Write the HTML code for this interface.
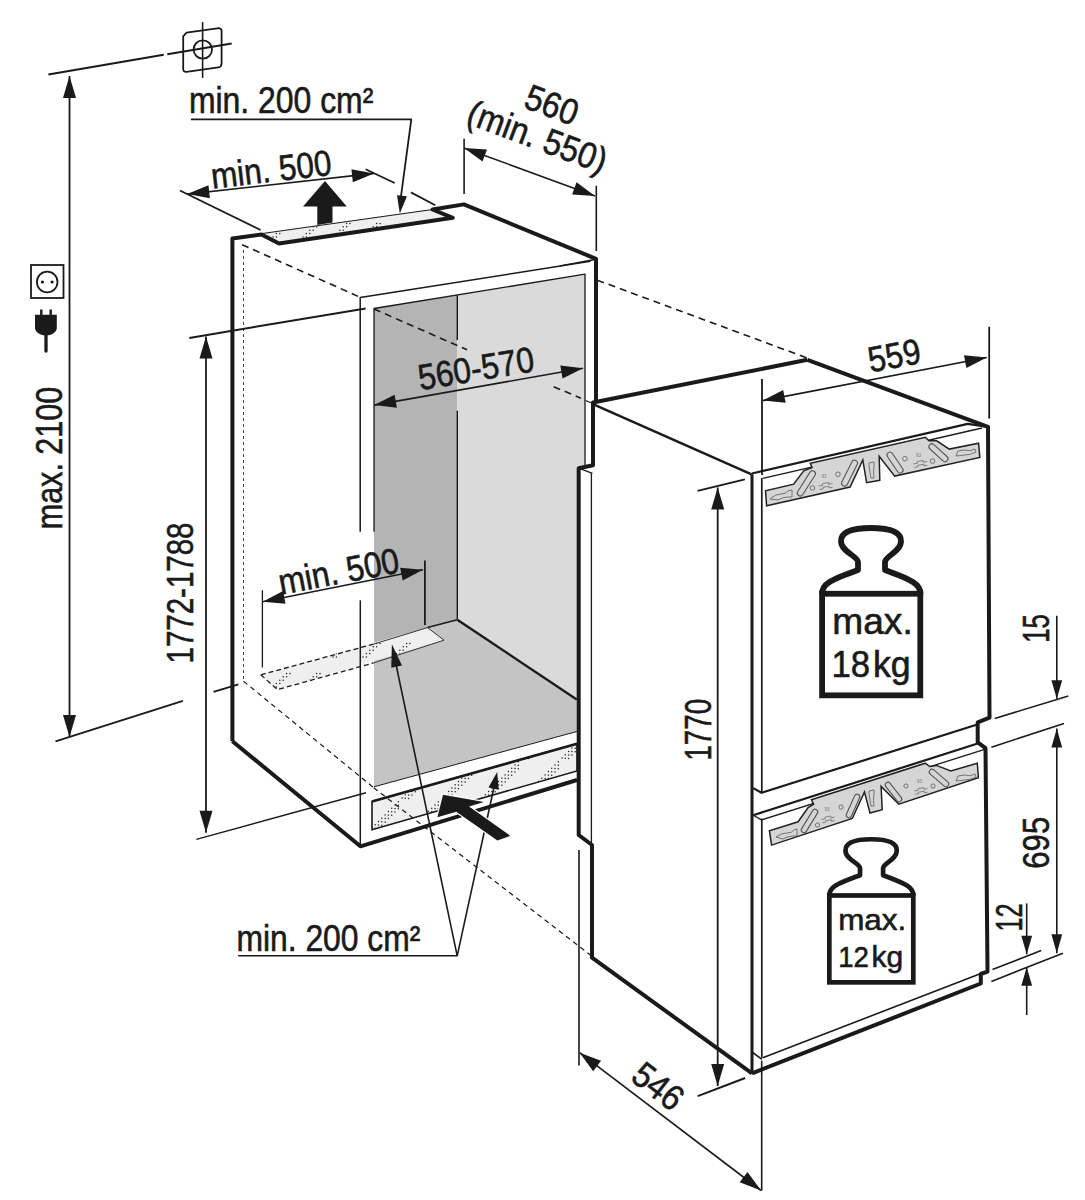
<!DOCTYPE html>
<html><head><meta charset="utf-8">
<style>
html,body{margin:0;padding:0;background:#fff;}
svg{display:block;} path{stroke-linejoin:round;}
text{font-family:"Liberation Sans",sans-serif;fill:#1a1a1a;stroke:#1a1a1a;stroke-width:0.6px;}
</style></head>
<body>
<svg width="1085" height="1200" viewBox="0 0 1085 1200">
<defs>
<pattern id="dots" width="30" height="30" patternUnits="userSpaceOnUse"><rect width="30" height="30" fill="#efefef"/><circle cx="3.0" cy="27.0" r="0.75" fill="#222"/><circle cx="6.4" cy="23.6" r="0.75" fill="#222"/><circle cx="9.8" cy="20.2" r="0.75" fill="#222"/><circle cx="13.2" cy="16.8" r="0.75" fill="#222"/><circle cx="16.6" cy="13.4" r="0.75" fill="#222"/><circle cx="6.4" cy="27.0" r="0.75" fill="#222"/><circle cx="9.8" cy="23.6" r="0.75" fill="#222"/><circle cx="13.2" cy="20.2" r="0.75" fill="#222"/><circle cx="16.6" cy="16.8" r="0.75" fill="#222"/><circle cx="20.0" cy="13.4" r="0.75" fill="#222"/></pattern>
<pattern id="grille" width="40" height="40" patternUnits="userSpaceOnUse"><rect width="40" height="40" fill="#efefef"/><circle cx="2.0" cy="38.0" r="0.75" fill="#222"/><circle cx="5.3" cy="34.7" r="0.75" fill="#222"/><circle cx="8.6" cy="31.4" r="0.75" fill="#222"/><circle cx="11.9" cy="28.1" r="0.75" fill="#222"/><circle cx="15.2" cy="24.8" r="0.75" fill="#222"/><circle cx="18.5" cy="21.5" r="0.75" fill="#222"/><circle cx="21.8" cy="18.2" r="0.75" fill="#222"/><circle cx="25.1" cy="14.9" r="0.75" fill="#222"/><circle cx="28.4" cy="11.6" r="0.75" fill="#222"/><circle cx="31.7" cy="8.3" r="0.75" fill="#222"/><circle cx="35.0" cy="5.0" r="0.75" fill="#222"/><circle cx="38.3" cy="1.7" r="0.75" fill="#222"/><circle cx="5.3" cy="38.2" r="0.75" fill="#222"/><circle cx="8.6" cy="34.9" r="0.75" fill="#222"/><circle cx="11.9" cy="31.6" r="0.75" fill="#222"/><circle cx="15.2" cy="28.3" r="0.75" fill="#222"/><circle cx="18.5" cy="25.0" r="0.75" fill="#222"/><circle cx="21.8" cy="21.7" r="0.75" fill="#222"/><circle cx="25.1" cy="18.4" r="0.75" fill="#222"/><circle cx="28.4" cy="15.1" r="0.75" fill="#222"/><circle cx="31.7" cy="11.8" r="0.75" fill="#222"/><circle cx="35.0" cy="8.5" r="0.75" fill="#222"/><circle cx="38.3" cy="5.2" r="0.75" fill="#222"/><circle cx="8.6" cy="38.4" r="0.75" fill="#222"/><circle cx="11.9" cy="35.1" r="0.75" fill="#222"/><circle cx="15.2" cy="31.8" r="0.75" fill="#222"/><circle cx="18.5" cy="28.5" r="0.75" fill="#222"/><circle cx="21.8" cy="25.2" r="0.75" fill="#222"/><circle cx="25.1" cy="21.9" r="0.75" fill="#222"/><circle cx="28.4" cy="18.6" r="0.75" fill="#222"/><circle cx="31.7" cy="15.3" r="0.75" fill="#222"/><circle cx="35.0" cy="12.0" r="0.75" fill="#222"/><circle cx="38.3" cy="8.7" r="0.75" fill="#222"/></pattern>
</defs>
<polygon points="374,308.5 457.3,295 457.3,619.8 374,645" fill="#b4b4b4" stroke="none" stroke-width="1"/>
<polygon points="457.3,295 585,274.2 585,468 578.7,468 578.7,699 457.3,619.8" fill="#dadada" stroke="none" stroke-width="1"/>
<polygon points="374,645 457.3,619.8 576.8,699.4 576.8,731.5 374,786.8" fill="#c4c4c4" stroke="none" stroke-width="1"/>
<polygon points="260.8,674.8 277.4,689.6 444,640.2 427.5,627.6" fill="url(#dots)" stroke="none" stroke-width="1"/>
<path d="M260.8,674.8 L277.4,689.6 L373.3,663 M260.8,674.8 L374,644" fill="none" stroke="#1a1a1a" stroke-width="1.3" stroke-dasharray="5,3"/>
<path d="M374,644 L427.5,627.6 L444,640.2 L373.3,663" fill="none" stroke="#333" stroke-width="1.0" />
<line x1="457.3" y1="619.8" x2="576.8" y2="699.4" stroke="#1a1a1a" stroke-width="2.4"/>
<line x1="427.5" y1="627.6" x2="457.3" y2="619.8" stroke="#1a1a1a" stroke-width="1.6"/>
<line x1="374" y1="786.8" x2="576.8" y2="731.5" stroke="#1a1a1a" stroke-width="1.0"/>
<path d="M374,531.7 L374,308.5 L585,274.2 L585,468" fill="none" stroke="#1a1a1a" stroke-width="1.3" />
<line x1="457.3" y1="295.3" x2="457.3" y2="340" stroke="#1a1a1a" stroke-width="1.4"/>
<line x1="457.3" y1="410.7" x2="457.3" y2="619" stroke="#1a1a1a" stroke-width="1.4"/>
<path d="M360.2,531.7 L360.2,297.5 L590.5,261.3" fill="none" stroke="#1a1a1a" stroke-width="1.5" />
<line x1="360.3" y1="600.3" x2="360.3" y2="846.5" stroke="#1a1a1a" stroke-width="1.5"/>
<polygon points="372,801.5 372,829.7 577,771 577,743.7" fill="url(#grille)" stroke="#1a1a1a" stroke-width="1.6"/>
<line x1="372" y1="801.5" x2="577" y2="743.7" stroke="#1a1a1a" stroke-width="2.6"/>
<polygon points="262.4,233.5 279,243.6 452.8,217.8 432.5,209.5" fill="url(#dots)" stroke="none" stroke-width="1"/>
<line x1="262.4" y1="233.5" x2="432.5" y2="209.5" stroke="#1a1a1a" stroke-width="1.2"/>
<path d="M232.4,741.2 L232.4,238.6 L261.5,234.4 L279,243.6 L452.8,217.8 L432.5,209.5 L463.9,204.4 L596,258.8 L596,401" fill="none" stroke="#1a1a1a" stroke-width="4.0" />
<path d="M807.4,359.8 L593,402.5 L593,465.2 L578.7,468.2 L578.7,835 L592,845 L592,957.7 L752,1073.4" fill="none" stroke="#1a1a1a" stroke-width="4.0" />
<path d="M232.4,741.2 L360.4,846.3 L577,780" fill="none" stroke="#1a1a1a" stroke-width="4.0" />
<line x1="560" y1="265.8" x2="595" y2="259.5" stroke="#1a1a1a" stroke-width="1.3"/>
<line x1="242.1" y1="244.7" x2="358.2" y2="296.4" stroke="#1a1a1a" stroke-width="1.6" stroke-dasharray="7,5"/>
<line x1="374" y1="309" x2="467" y2="349.8" stroke="#1a1a1a" stroke-width="1.6" stroke-dasharray="7,5"/>
<line x1="553.6" y1="386.7" x2="581" y2="398.2" stroke="#1a1a1a" stroke-width="1.6" stroke-dasharray="7,5"/>
<line x1="585.3" y1="400.5" x2="592" y2="403" stroke="#1a1a1a" stroke-width="1.3"/>
<line x1="597.3" y1="280.2" x2="807.4" y2="358.1" stroke="#1a1a1a" stroke-width="1.6" stroke-dasharray="7,5"/>
<line x1="243.5" y1="250" x2="243.5" y2="681.4" stroke="#444" stroke-width="1.0" stroke-dasharray="3,3"/>
<line x1="243.5" y1="681.2" x2="373.7" y2="787.7" stroke="#1a1a1a" stroke-width="1.2" stroke-dasharray="5,4"/>
<line x1="373.7" y1="787.7" x2="591.7" y2="956" stroke="#1a1a1a" stroke-width="1.2" stroke-dasharray="5,4"/>
<path d="M807.4,359.8 L988,426.8 L989.5,717.6 L977.7,722.3 L977.7,742.3 L985.5,748.2 L987.5,971.6 L980.8,974 L980.8,983.5 L752,1073.4" fill="none" stroke="#1a1a1a" stroke-width="4.0" />
<line x1="593.5" y1="404.3" x2="751.6" y2="474.3" stroke="#1a1a1a" stroke-width="2.4"/>
<line x1="752" y1="474.3" x2="752" y2="1073.3" stroke="#1a1a1a" stroke-width="3.0"/>
<line x1="591.4" y1="473" x2="591.4" y2="843" stroke="#1a1a1a" stroke-width="1.3"/>
<line x1="578.7" y1="468.2" x2="592.4" y2="473.3" stroke="#1a1a1a" stroke-width="1.3"/>
<path d="M752,473.5 L967.7,423.9 L988,426.8" fill="none" stroke="#1a1a1a" stroke-width="2.2" />
<path d="M762.8,478.3 L982,428" fill="none" stroke="#1a1a1a" stroke-width="1.3" />
<line x1="761.8" y1="478" x2="761.8" y2="792.6" stroke="#1a1a1a" stroke-width="1.7"/>
<path d="M753.2,788.1 L761.5,792.8 L976.5,724.7" fill="none" stroke="#1a1a1a" stroke-width="2.2" />
<path d="M753.2,815.2 L977.7,743.5" fill="none" stroke="#1a1a1a" stroke-width="2.2" />
<path d="M753.2,815.2 L761.5,819.9 L984.7,749.4" fill="none" stroke="#1a1a1a" stroke-width="1.3" />
<line x1="761.8" y1="818.6" x2="761.8" y2="1057.8" stroke="#1a1a1a" stroke-width="1.7"/>
<line x1="762.8" y1="1057.8" x2="979.6" y2="974" stroke="#1a1a1a" stroke-width="1.6"/>
<line x1="752" y1="1052" x2="762" y2="1059.4" stroke="#1a1a1a" stroke-width="1.6"/>
<line x1="48.4" y1="74.6" x2="163.7" y2="54.7" stroke="#1a1a1a" stroke-width="2"/>
<line x1="167.3" y1="54.2" x2="231.7" y2="43.4" stroke="#1a1a1a" stroke-width="2"/>
<line x1="69.5" y1="76" x2="69.5" y2="737" stroke="#1a1a1a" stroke-width="1.8"/>
<polygon points="69.5,76 63.0,98.0 76.0,98.0" fill="#1a1a1a" stroke="none" stroke-width="1"/>
<polygon points="69.5,737 76.0,715.0 63.0,715.0" fill="#1a1a1a" stroke="none" stroke-width="1"/>
<line x1="55.5" y1="741.4" x2="182.9" y2="700.9" stroke="#1a1a1a" stroke-width="2"/>
<line x1="206" y1="336.5" x2="206" y2="832.8" stroke="#1a1a1a" stroke-width="1.8"/>
<polygon points="206,336.5 199.5,358.5 212.5,358.5" fill="#1a1a1a" stroke="none" stroke-width="1"/>
<polygon points="206,832.8 212.5,810.8 199.5,810.8" fill="#1a1a1a" stroke="none" stroke-width="1"/>
<line x1="189.3" y1="337.9" x2="365.6" y2="308.5" stroke="#1a1a1a" stroke-width="2"/>
<line x1="213.5" y1="691.9" x2="238.4" y2="684.4" stroke="#1a1a1a" stroke-width="1.8"/>
<line x1="196.4" y1="839.4" x2="366" y2="792.8" stroke="#1a1a1a" stroke-width="1.5"/>
<line x1="187.3" y1="194.1" x2="374" y2="173.4" stroke="#1a1a1a" stroke-width="1.6"/>
<polygon points="187.3,194.1 209.88229860355696,198.1360611714628 208.44972713189483,185.21523538598842" fill="#1a1a1a" stroke="none" stroke-width="1"/>
<polygon points="374,173.4 351.417701396443,169.3639388285372 352.8502728681052,182.28476461401158" fill="#1a1a1a" stroke="none" stroke-width="1"/>
<line x1="179.9" y1="190.5" x2="260.6" y2="230" stroke="#1a1a1a" stroke-width="1.8"/>
<line x1="365.6" y1="169.2" x2="394.7" y2="183" stroke="#1a1a1a" stroke-width="1.8"/>
<line x1="410.9" y1="192.4" x2="435.3" y2="205.3" stroke="#1a1a1a" stroke-width="1.8"/>
<path d="M190.9,119.4 L411.3,119.4 L400.5,200" fill="none" stroke="#1a1a1a" stroke-width="1.8" />
<polygon points="399.8,213.6 406.94441008460274,196.33855728674376 397.0181058077653,195.1267473166415" fill="#1a1a1a" stroke="none" stroke-width="1"/>
<polygon points="317.3,225 317.3,206.6 303,206.6 325,181 346.8,206.6 332.5,206.6 332.5,222.5" fill="#1a1a1a" stroke="none" stroke-width="1"/>
<line x1="464.1" y1="138.8" x2="464.1" y2="194" stroke="#1a1a1a" stroke-width="1.6"/>
<line x1="596.3" y1="185.8" x2="596.3" y2="251" stroke="#1a1a1a" stroke-width="1.6"/>
<line x1="464.1" y1="147.9" x2="595" y2="196" stroke="#1a1a1a" stroke-width="1.6"/>
<polygon points="464.1,147.9 482.5081050086178,161.58910771349622 486.99190535604146,149.3868319239378" fill="#1a1a1a" stroke="none" stroke-width="1"/>
<polygon points="595,196 576.5918949913822,182.3108922865038 572.1080946439585,194.51316807606221" fill="#1a1a1a" stroke="none" stroke-width="1"/>
<line x1="762" y1="379" x2="762" y2="475" stroke="#1a1a1a" stroke-width="1.8"/>
<line x1="989.2" y1="326.8" x2="989.2" y2="418.6" stroke="#1a1a1a" stroke-width="1.8"/>
<line x1="762.8" y1="400.6" x2="986.8" y2="357.5" stroke="#1a1a1a" stroke-width="1.6"/>
<polygon points="762.8,400.6 785.6318711621188,402.82613100162706 783.1755867977793,390.060291149839" fill="#1a1a1a" stroke="none" stroke-width="1"/>
<polygon points="986.8,357.5 963.9681288378811,355.27386899837296 966.4244132022206,368.03970885016105" fill="#1a1a1a" stroke="none" stroke-width="1"/>
<line x1="374.1" y1="405.1" x2="583.1" y2="368.2" stroke="#1a1a1a" stroke-width="1.6"/>
<polygon points="374.1,405.1 396.8950539709684,407.67594923487263 394.63479633795504,394.8739480072362" fill="#1a1a1a" stroke="none" stroke-width="1"/>
<polygon points="583.1,368.2 560.3049460290317,365.6240507651274 562.565203662045,378.4260519927638" fill="#1a1a1a" stroke="none" stroke-width="1"/>
<line x1="262.4" y1="590.2" x2="262.4" y2="667.5" stroke="#1a1a1a" stroke-width="1.3"/>
<line x1="424.9" y1="560.5" x2="424.9" y2="625" stroke="#1a1a1a" stroke-width="1.8"/>
<line x1="262.7" y1="601.8" x2="423" y2="569.8" stroke="#1a1a1a" stroke-width="1.6"/>
<polygon points="262.7,601.8 285.546787092962,603.8674427510487 283.0018657009328,591.1189771528525" fill="#1a1a1a" stroke="none" stroke-width="1"/>
<polygon points="423,569.8 400.153212907038,567.7325572489513 402.6981342990672,580.4810228471474" fill="#1a1a1a" stroke="none" stroke-width="1"/>
<path d="M238.2,955.8 L457.2,955.8 L395.5,662" fill="none" stroke="#1a1a1a" stroke-width="1.6" />
<polygon points="391.9,644.2 391.2344195638743,667.8390990243505 402.00055218711304,665.5829101273752" fill="#1a1a1a" stroke="none" stroke-width="1"/>
<path d="M457.2,955.8 L494.5,785" fill="none" stroke="#1a1a1a" stroke-width="1.6" />
<polygon points="497.2,772 488.50387658645417,787.5054002714015 498.66601151300887,789.7169639115658" fill="#1a1a1a" stroke="none" stroke-width="1"/>
<polygon points="437.4,817.3 443,794.7 484,802.1 469,806.5 510.3,835.8 497.4,840.4 456.3,811.8" fill="#1a1a1a" stroke="#fff" stroke-width="2.5"/>
<polygon points="437.4,817.3 443,794.7 484,802.1 469,806.5 510.3,835.8 497.4,840.4 456.3,811.8" fill="#1a1a1a" stroke="none" stroke-width="1"/>
<line x1="717.7" y1="487.5" x2="717.7" y2="1086" stroke="#1a1a1a" stroke-width="1.8"/>
<polygon points="717.7,487.5 711.2,509.5 724.2,509.5" fill="#1a1a1a" stroke="none" stroke-width="1"/>
<polygon points="717.7,1086 724.2,1064.0 711.2,1064.0" fill="#1a1a1a" stroke="none" stroke-width="1"/>
<line x1="697.5" y1="490.9" x2="744.9" y2="479.4" stroke="#1a1a1a" stroke-width="2"/>
<line x1="697.7" y1="1096.1" x2="745.2" y2="1078" stroke="#1a1a1a" stroke-width="2"/>
<line x1="1056.8" y1="615.7" x2="1056.8" y2="698.7" stroke="#1a1a1a" stroke-width="1.6"/>
<polygon points="1056.8,698.7 1062.2,680.2 1051.3999999999999,680.2" fill="#1a1a1a" stroke="none" stroke-width="1"/>
<line x1="994.7" y1="718.6" x2="1068.3" y2="695.9" stroke="#1a1a1a" stroke-width="1.6"/>
<line x1="991.4" y1="747.2" x2="1064" y2="723.4" stroke="#1a1a1a" stroke-width="1.6"/>
<line x1="1056.8" y1="728.4" x2="1056.8" y2="953.2" stroke="#1a1a1a" stroke-width="1.6"/>
<polygon points="1056.8,728.4 1051.3999999999999,747.4 1062.2,747.4" fill="#1a1a1a" stroke="none" stroke-width="1"/>
<polygon points="1056.8,953.2 1062.2,934.2 1051.3999999999999,934.2" fill="#1a1a1a" stroke="none" stroke-width="1"/>
<line x1="1026.7" y1="903.4" x2="1026.7" y2="954.3" stroke="#1a1a1a" stroke-width="1.6"/>
<polygon points="1026.7,954.3 1032.1000000000001,935.8 1021.3000000000001,935.8" fill="#1a1a1a" stroke="none" stroke-width="1"/>
<line x1="1026.7" y1="967.3" x2="1026.7" y2="1015" stroke="#1a1a1a" stroke-width="1.6"/>
<polygon points="1026.7,967.3 1021.3000000000001,985.8 1032.1000000000001,985.8" fill="#1a1a1a" stroke="none" stroke-width="1"/>
<line x1="992.5" y1="969.5" x2="1041.2" y2="950.6" stroke="#1a1a1a" stroke-width="1.6"/>
<line x1="991.4" y1="981.4" x2="1062.9" y2="953.2" stroke="#1a1a1a" stroke-width="1.6"/>
<line x1="579" y1="850" x2="579" y2="1065.4" stroke="#1a1a1a" stroke-width="1.6"/>
<line x1="761.7" y1="1060.7" x2="761.7" y2="1190.5" stroke="#1a1a1a" stroke-width="1.6"/>
<line x1="579.6" y1="1052.7" x2="761.1" y2="1190.5" stroke="#1a1a1a" stroke-width="1.6"/>
<polygon points="579.6,1052.7 593.1915677220521,1071.1802404436974 601.0525868087676,1060.8262856959552" fill="#1a1a1a" stroke="none" stroke-width="1"/>
<polygon points="761.1,1190.5 747.5084322779479,1172.0197595563027 739.6474131912324,1182.3737143040448" fill="#1a1a1a" stroke="none" stroke-width="1"/>
<path d="M186.5,32.7 L219,28.2 Q221.6,28.5 221.6,31.1 L221.6,63.4 Q221.6,66.8 218.4,67.3 L186.5,71.8 Q183.2,72 183.2,69.2 L183.2,36.3 Z" fill="none" stroke="#1a1a1a" stroke-width="1.8" />
<circle cx="202.8" cy="49.5" r="9.2" fill="none" stroke="#1a1a1a" stroke-width="1.8"/>
<line x1="202.6" y1="22.1" x2="202.6" y2="77.9" stroke="#1a1a1a" stroke-width="1.6"/>
<rect x="31" y="265" width="32.5" height="33" fill="none" stroke="#1a1a1a" stroke-width="1.8"/>
<circle cx="47.2" cy="282" r="10.3" fill="none" stroke="#1a1a1a" stroke-width="1.8"/>
<circle cx="42.4" cy="282" r="1.6" fill="#1a1a1a"/><circle cx="52.1" cy="282" r="1.6" fill="#1a1a1a"/>
<path d="M35,314.7 L56.8,314.7 L56.8,328 C56.8,332 51.5,335.5 46,335.5 C40.5,335.5 35,332 35,328 Z" fill="#1a1a1a" stroke="#1a1a1a" stroke-width="0" />
<line x1="41.3" y1="309.5" x2="41.3" y2="315" stroke="#1a1a1a" stroke-width="2.4"/>
<line x1="50.7" y1="309.5" x2="50.7" y2="315" stroke="#1a1a1a" stroke-width="2.4"/>
<line x1="46" y1="334" x2="46" y2="351" stroke="#1a1a1a" stroke-width="3.3" stroke-linecap="round"/>
<polygon points="766.6,505.8 765.5,490.8 793.7,484.2 803.7,470.9 812,467.6 810.3,463.2 925.3,437.2 928.9,440.8 936.7,440.8 949.3,449.1 978.6,443.2 979.8,457.5 894.7,476.1 879.2,456.3 879.8,480.3 866.6,482.7 862.8,459.9 850.1,487" fill="#d5d5d5" stroke="#222" stroke-width="1.5"/>
<path d="M812.5,473.7 L800.3,493" fill="none" stroke="#555" stroke-width="7" stroke-linecap="round"/>
<path d="M812.5,473.7 L800.3,493" fill="none" stroke="#d5d5d5" stroke-width="4.8" stroke-linecap="round"/>
<path d="M854.5,463.2 L844.6,483.1" fill="none" stroke="#555" stroke-width="7" stroke-linecap="round"/>
<path d="M854.5,463.2 L844.6,483.1" fill="none" stroke="#d5d5d5" stroke-width="4.8" stroke-linecap="round"/>
<path d="M890,455.1 L900.1,470.1" fill="none" stroke="#555" stroke-width="7" stroke-linecap="round"/>
<path d="M890,455.1 L900.1,470.1" fill="none" stroke="#d5d5d5" stroke-width="4.8" stroke-linecap="round"/>
<path d="M931.9,446.8 L945,458.7" fill="none" stroke="#555" stroke-width="7" stroke-linecap="round"/>
<path d="M931.9,446.8 L945,458.7" fill="none" stroke="#d5d5d5" stroke-width="4.8" stroke-linecap="round"/>
<circle cx="838" cy="474.2" r="2.3" fill="none" stroke="#666" stroke-width="0.9"/>
<circle cx="812.5" cy="488" r="2.3" fill="none" stroke="#666" stroke-width="0.9"/>
<circle cx="904.9" cy="458.7" r="2.3" fill="none" stroke="#666" stroke-width="0.9"/>
<circle cx="932.5" cy="461.1" r="2.3" fill="none" stroke="#666" stroke-width="0.9"/>
<path d="M770,499 Q775,494 781,494 Q786,494 788,491 L792,490 L792,497 L788,497 Q783,497 778,500 Z" fill="none" stroke="#666" stroke-width="0.9" />
<path d="M956,456 L958,451 L965,450 Q970,452 975,449 L976,452 Q970,455 965,455 Z" fill="none" stroke="#666" stroke-width="0.9" />
<path d="M869,463 L874,462 L874,466 Q873,472 874,478 L871,478 Q870,472 869,466 Z" fill="none" stroke="#666" stroke-width="0.9" />
<polygon points="771.6,845.1 769.4,830.7 798.1,821.8 808.1,807.5 813.6,804.1 811.4,799.7 925.3,763.2 929.7,766.5 936.4,765.4 950.8,771 977.3,763.2 978.4,777.6 898.8,804.1 881.1,786.5 882.2,809.7 870,813 864.5,792 852.3,818.5" fill="#d5d5d5" stroke="#222" stroke-width="1.5"/>
<path d="M815,812 L804,830" fill="none" stroke="#555" stroke-width="6.5" stroke-linecap="round"/>
<path d="M815,812 L804,830" fill="none" stroke="#d5d5d5" stroke-width="4.3" stroke-linecap="round"/>
<path d="M857,797 L849,815" fill="none" stroke="#555" stroke-width="6.5" stroke-linecap="round"/>
<path d="M857,797 L849,815" fill="none" stroke="#d5d5d5" stroke-width="4.3" stroke-linecap="round"/>
<path d="M888,785 L899,799" fill="none" stroke="#555" stroke-width="6.5" stroke-linecap="round"/>
<path d="M888,785 L899,799" fill="none" stroke="#d5d5d5" stroke-width="4.3" stroke-linecap="round"/>
<path d="M932,772 L946,784" fill="none" stroke="#555" stroke-width="6.5" stroke-linecap="round"/>
<path d="M932,772 L946,784" fill="none" stroke="#d5d5d5" stroke-width="4.3" stroke-linecap="round"/>
<circle cx="817.5" cy="825" r="2.1" fill="none" stroke="#666" stroke-width="0.9"/>
<circle cx="841" cy="807" r="2.1" fill="none" stroke="#666" stroke-width="0.9"/>
<circle cx="906" cy="786" r="2.1" fill="none" stroke="#666" stroke-width="0.9"/>
<circle cx="933" cy="786" r="2.1" fill="none" stroke="#666" stroke-width="0.9"/>
<path d="M776,837 Q781,833 787,833 Q792,833 794,830 L797,829 L797,836 L793,836 Q788,836 783,839 Z" fill="none" stroke="#666" stroke-width="0.9" />
<path d="M956,781 L958,776 L965,775 Q970,777 975,774 L976,777 Q970,780 965,780 Z" fill="none" stroke="#666" stroke-width="0.9" />
<path d="M869,791 L874,790 L874,794 Q873,800 874,806 L871,806 Q870,800 869,794 Z" fill="none" stroke="#666" stroke-width="0.9" />
<path d="M818.6,486.0 L822.6,485.3 L822.6,483.5 L828.6,482.5 L828.6,484.3 L832.6,483.5 M819.6,489.5 L823.1,488.8 L823.1,487.3 L829.1,486.3 L829.1,487.9 L832.6,487.3" fill="none" stroke="#777" stroke-width="0.9" />
<text x="821.5" y="478" font-size="5.0" style="fill:#777;stroke:none" textLength="5.0" lengthAdjust="spacingAndGlyphs">93</text>
<path d="M913.3,464.0 L917.3,463.3 L917.3,461.5 L923.3,460.5 L923.3,462.3 L927.3,461.5 M914.3,467.5 L917.8,466.8 L917.8,465.3 L923.8,464.3 L923.8,465.9 L927.3,465.3" fill="none" stroke="#777" stroke-width="0.9" />
<text x="916" y="456.5" font-size="5.0" style="fill:#777;stroke:none" textLength="5.0" lengthAdjust="spacingAndGlyphs">93</text>
<path d="M821.4,819.425 L825.1999999999999,818.76 L825.1999999999999,817.05 L830.9,816.1 L830.9,817.81 L834.6999999999999,817.05 M822.35,822.75 L825.675,822.085 L825.675,820.66 L831.375,819.71 L831.375,821.23 L834.6999999999999,820.66" fill="none" stroke="#777" stroke-width="0.9" />
<text x="824.5" y="811" font-size="5.0" style="fill:#777;stroke:none" textLength="5.0" lengthAdjust="spacingAndGlyphs">93</text>
<path d="M914.3,790.925 L918.0999999999999,790.26 L918.0999999999999,788.55 L923.8,787.6 L923.8,789.31 L927.5999999999999,788.55 M915.25,794.25 L918.5749999999999,793.585 L918.5749999999999,792.16 L924.275,791.21 L924.275,792.73 L927.5999999999999,792.16" fill="none" stroke="#777" stroke-width="0.9" />
<text x="917" y="783" font-size="5.0" style="fill:#777;stroke:none" textLength="5.0" lengthAdjust="spacingAndGlyphs">93</text>
<g><path d="M822,594 C822,584 830,580 858,570 L858,562 C858,556 841,552 841,541 C841,532 853,528 871,528 C889,528 901,532 901,541 C901,552 885,556 885,562 L885,570 C912,580 920.5,584 920.5,594" fill="none" stroke="#1a1a1a" stroke-width="5.8"/><rect x="822.1" y="593.75" width="98.2" height="101.6" fill="none" stroke="#1a1a1a" stroke-width="5.8"/></g>
<g transform="translate(871.35,836.7) scale(0.855) translate(-871.25,-525)"><path d="M822,594 C822,584 830,580 858,570 L858,562 C858,556 841,552 841,541 C841,532 853,528 871,528 C889,528 901,532 901,541 C901,552 885,556 885,562 L885,570 C912,580 920.5,584 920.5,594" fill="none" stroke="#1a1a1a" stroke-width="5.5"/><rect x="822.1" y="593.75" width="98.2" height="101.6" fill="none" stroke="#1a1a1a" stroke-width="5.5"/></g>
<text transform="translate(832.3,633.7) rotate(0)" font-size="36" text-anchor="start" textLength="80.4" lengthAdjust="spacingAndGlyphs" >max.</text>
<text transform="translate(831.4,677.2) rotate(0)" font-size="36" text-anchor="start" textLength="38.6" lengthAdjust="spacingAndGlyphs" >18</text>
<text transform="translate(873,677.2) rotate(0)" font-size="36" text-anchor="start" textLength="37.7" lengthAdjust="spacingAndGlyphs" >kg</text>
<text transform="translate(838.2,929.7) rotate(0)" font-size="30" text-anchor="start" textLength="68" lengthAdjust="spacingAndGlyphs" >max.</text>
<text transform="translate(838.2,966.7) rotate(0)" font-size="30" text-anchor="start" textLength="30.7" lengthAdjust="spacingAndGlyphs" >12</text>
<text transform="translate(871.6,966.7) rotate(0)" font-size="30" text-anchor="start" textLength="31.7" lengthAdjust="spacingAndGlyphs" >kg</text>
<text transform="translate(188.9,113.4) rotate(0)" font-size="36" text-anchor="start" textLength="184.4" lengthAdjust="spacingAndGlyphs" >min. 200 cm²</text>
<text transform="translate(236.4,950.8) rotate(0)" font-size="36" text-anchor="start" textLength="184" lengthAdjust="spacingAndGlyphs" >min. 200 cm²</text>
<text transform="translate(272.5,181.7) rotate(-6.6)" font-size="36" text-anchor="middle" textLength="121" lengthAdjust="spacingAndGlyphs" >min. 500</text>
<text transform="translate(341,583.5) rotate(-10.7)" font-size="36" text-anchor="middle" textLength="122" lengthAdjust="spacingAndGlyphs" >min. 500</text>
<text transform="translate(547.5,116.5) rotate(20.4)" font-size="36" text-anchor="middle" textLength="54" lengthAdjust="spacingAndGlyphs" >560</text>
<text transform="translate(533.1,148.2) rotate(20.4)" font-size="36" text-anchor="middle" textLength="146" lengthAdjust="spacingAndGlyphs" >(min. 550)</text>
<text transform="translate(896.5,367.7) rotate(-10.5)" font-size="36" text-anchor="middle" textLength="52.7" lengthAdjust="spacingAndGlyphs" >559</text>
<text transform="translate(478,380.7) rotate(-9.3)" font-size="36" text-anchor="middle" textLength="117" lengthAdjust="spacingAndGlyphs" >560-570</text>
<text transform="translate(62.3,458) rotate(-90)" font-size="37" text-anchor="middle" textLength="142.6" lengthAdjust="spacingAndGlyphs" >max. 2100</text>
<text transform="translate(193.4,593) rotate(-90)" font-size="36" text-anchor="middle" textLength="141" lengthAdjust="spacingAndGlyphs" >1772-1788</text>
<text transform="translate(710.7,729.7) rotate(-90)" font-size="36" text-anchor="middle" textLength="62" lengthAdjust="spacingAndGlyphs" >1770</text>
<text transform="translate(1048.8,628.5) rotate(-90)" font-size="36" text-anchor="middle" textLength="28.6" lengthAdjust="spacingAndGlyphs" >15</text>
<text transform="translate(1049,842.75) rotate(-90)" font-size="36" text-anchor="middle" textLength="52" lengthAdjust="spacingAndGlyphs" >695</text>
<text transform="translate(1021.7,917.5) rotate(-90)" font-size="36" text-anchor="middle" textLength="28.2" lengthAdjust="spacingAndGlyphs" >12</text>
<text transform="translate(650.6,1096) rotate(38)" font-size="36" text-anchor="middle" textLength="54" lengthAdjust="spacingAndGlyphs" >546</text>
</svg>
</body></html>
